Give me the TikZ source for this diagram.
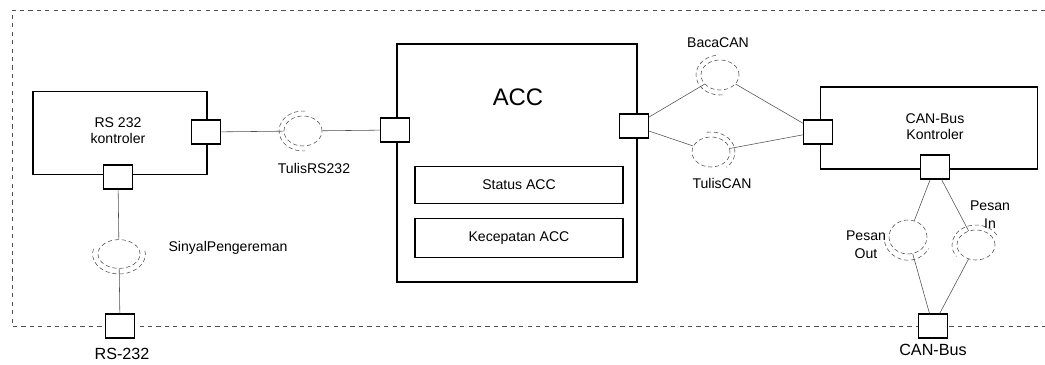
\documentclass[tikz,border=0pt]{standalone}
\usepackage{fontspec}
\setmainfont{Liberation Sans}
\usepackage{xcolor}
\usepackage{tikz}
\usetikzlibrary{shapes.geometric}
\definecolor{linecolor}{HTML}{505050}

\begin{document}
\begin{tikzpicture}[
    x=0.025cm, y=-0.025cm,
    every node/.style={font=\fontsize{10}{11.5}\selectfont, align=center},
    comp/.style={rectangle, draw, line width=0.9pt},
    port/.style={rectangle, draw, fill=white, line width=0.9pt,
                 minimum width=0.72cm, minimum height=0.6cm, inner sep=0pt},
    ball/.style={ellipse, draw=linecolor, densely dashed, thin,
                 minimum width=0.95cm, minimum height=0.75cm, inner sep=0pt},
    sock/.style={draw=linecolor, densely dashed, thin},
    conn/.style={draw=linecolor, thin},
    frame/.style={draw=linecolor, dashed, thin},
    extlbl/.style={font=\fontsize{11.5}{13}\selectfont}
]
\useasboundingbox (0,0) rectangle (1045,365);

% subsystem frame
\draw[frame] (1045,10) -- (12,10) -- (12,326) -- (1045,326);

% components
\node[comp, minimum width=4.35cm, minimum height=2.07cm] (rsctrl) at (120,133) {};
\node (rsctrltxt) at (118,131) {RS 232\\kontroler};

\node[comp, minimum width=6cm, minimum height=5.95cm] (acc) at (517,163) {};
\node[font=\fontsize{17}{19}\selectfont] (acctxt) at (518,97) {ACC};
\node[comp, minimum width=5.2cm, minimum height=0.93cm] (status) at (519,185) {Status ACC};
\node[comp, minimum width=5.2cm, minimum height=0.97cm] (speed) at (519,238) {Kecepatan ACC};

\node[comp, minimum width=5.42cm, minimum height=2.05cm] (canctrl) at (929,128) {};
\node (canctrltxt) at (935,127) {CAN-Bus\\Kontroler};

% ports
\node[port] (rsR) at (206,132) {};
\node[port] (rsB) at (118,177) {};
\node[port] (rsExt) at (120,326) {};
\node[port] (accL) at (395,130) {};
\node[port] (accR) at (634,126) {};
\node[port] (canL) at (818,132) {};
\node[port] (canB) at (935,167) {};
\node[port] (canExt) at (933,326) {};

% interfaces
\node[ball] (tulisrs) at (303,131) {};
\node[ball, minimum width=1.05cm, minimum height=0.72cm] (sinyal) at (119,254) {};
\node[ball] (bacacan) at (720,75) {};
\node[ball] (tuliscan) at (711,152) {};
\node[ball, minimum height=0.85cm] (pesanout) at (908,237) {};
\node[ball] (pesanin) at (976,245) {};

\draw[sock] (tulisrs.center) ++(85:0.6cm and 0.5cm) arc[start angle=85, end angle=275, x radius=0.6cm, y radius=0.5cm];
\draw[sock] (sinyal.center) ++(165:0.66cm and 0.5cm) arc[start angle=165, end angle=375, x radius=0.66cm, y radius=0.5cm];
\draw[sock] (bacacan.center) ++(100:0.6cm and 0.5cm) arc[start angle=100, end angle=280, x radius=0.6cm, y radius=0.5cm];
\draw[sock] (tuliscan.center) ++(100:0.6cm and 0.5cm) arc[start angle=100, end angle=-50, x radius=0.6cm, y radius=0.5cm];
\draw[sock] (pesanout.center) ++(175:0.6cm and 0.58cm) arc[start angle=175, end angle=330, x radius=0.6cm, y radius=0.58cm];
\draw[sock] (pesanin.center) ++(30:0.6cm and 0.5cm) arc[start angle=30, end angle=215, x radius=0.6cm, y radius=0.5cm];

% labels
\node (lbltulisrs) at (314,168) {TulisRS232};
\node (lblsinyal) at (228,248) {SinyalPengereman};
\node[extlbl] (lblrsext) at (122,354) {RS-232};
\node (lblbaca) at (718,43) {BacaCAN};
\node (lbltuliscan) at (722,183) {TulisCAN};
\node[font=\fontsize{10}{13}\selectfont] (lblout) at (866,245) {Pesan\\Out};
\node[font=\fontsize{10}{13}\selectfont] (lblin) at (990,215) {Pesan\\In};
\node[extlbl] (lblcanext) at (933,350) {CAN-Bus};

% connectors
\draw[conn] (rsR) -- (tulisrs);
\draw[conn] (tulisrs) -- (accL);
\draw[conn] (rsB) -- (sinyal);
\draw[conn] (sinyal) -- (rsExt);
\draw[conn] (accR) -- (bacacan);
\draw[conn] (accR) -- (tuliscan);
\draw[conn] (bacacan) -- (canL);
\draw[conn] (tuliscan) -- (canL);
\draw[conn] (canB) -- (pesanout);
\draw[conn] (canB) -- (pesanin);
\draw[conn] (pesanout) -- (canExt);
\draw[conn] (pesanin) -- (canExt);
\end{tikzpicture}
\end{document}
